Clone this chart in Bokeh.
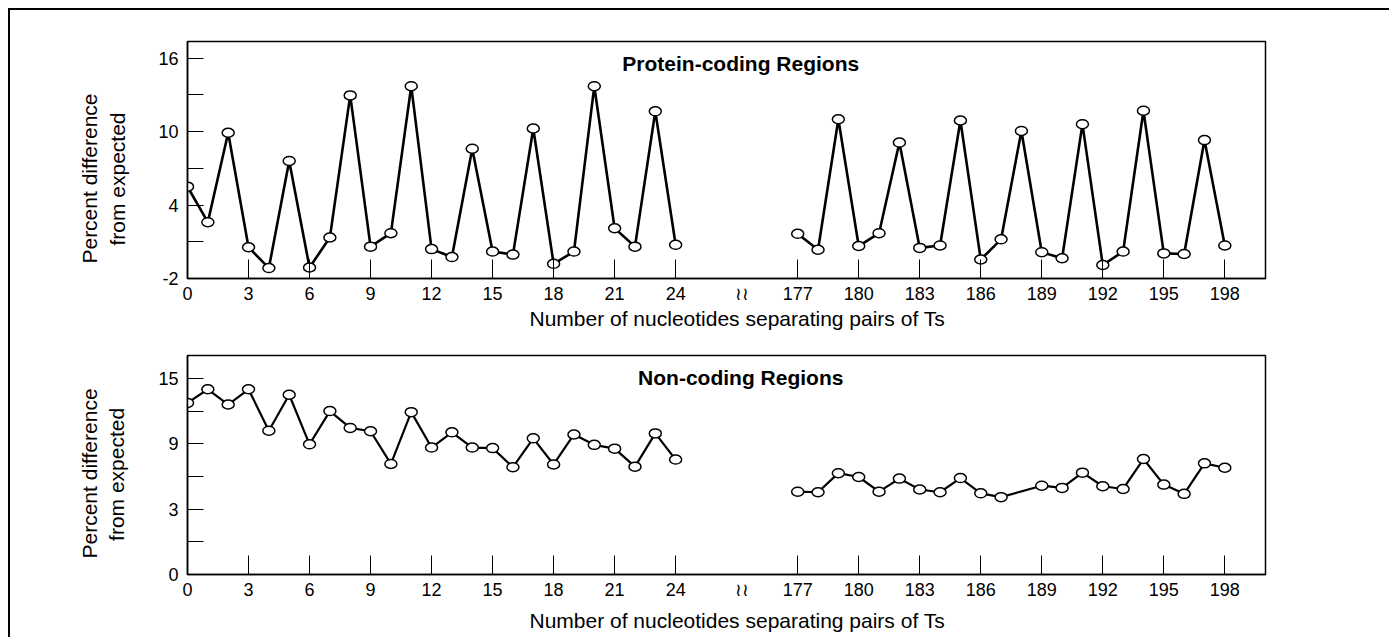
from math import pi
from bokeh.plotting import figure
from bokeh.models import Range1d, FixedTicker, Label, Title
from bokeh.layouts import column, row
from bokeh.core.properties import value
from bokeh.embed import file_html
from bokeh.resources import INLINE

# ---------------- data ----------------
x_left = list(range(0, 25))
x_right_coding = list(range(177, 199))
x_right_noncoding = list(range(177, 188)) + list(range(189, 199))

coding_left = [5.5, 2.6, 9.9, 0.55, -1.15, 7.6, -1.1, 1.35, 12.95, 0.6, 1.7, 13.7, 0.4,
               -0.25, 8.6, 0.2, -0.05, 10.25, -0.8, 0.2, 13.7, 2.1, 0.6, 11.65, 0.75]
coding_right = [1.65, 0.35, 11.0, 0.65, 1.7, 9.1, 0.5, 0.7, 10.9, -0.45, 1.2, 10.05,
                0.15, -0.35, 10.6, -0.9, 0.2, 11.7, 0.05, 0.0, 9.3, 0.7]

noncoding_left = [12.75, 14.0, 12.6, 14.0, 10.2, 13.5, 8.95, 12.0, 10.45, 10.15, 7.15,
                  11.9, 8.65, 10.05, 8.65, 8.6, 6.85, 9.5, 7.1, 9.85, 8.9, 8.55, 6.9,
                  9.95, 7.55]
noncoding_right = [4.6, 4.55, 6.3, 5.95, 4.6, 5.8, 4.8, 4.55, 5.85, 4.45, 4.1, 5.15,
                   4.95, 6.35, 5.1, 4.85, 7.6, 5.25, 4.4, 7.2, 6.8]

x_tick_labels_left = [0, 3, 6, 9, 12, 15, 18, 21, 24]
x_tick_labels_right = [177, 180, 183, 186, 189, 192, 195, 198]

top_y_major = [-2, 4, 10, 16]
top_y_minor = [1, 7, 13]
bottom_y_major = [-3, 3, 9, 15]
bottom_y_labels = ["0", "3", "9", "15"]
bottom_y_minor = [0, 6, 12]

titles = ["Protein-coding Regions", "Non-coding Regions"]
x_label = "Number of nucleotides separating pairs of Ts"
y_label = ["Percent difference", "from expected"]
break_mark = "\u2240\u2240"

# broken axis: values after the break are shifted left
BREAK_SHIFT = 147
BREAK_POS = 27.25


def bx(vals):
    return [v if v <= 24 else v - BREAK_SHIFT for v in vals]


FONT = "Liberation Sans"
LAB_W = 130
MAIN_W = 1249


def make_panel(height, mb_top, mb_bottom, y_lo, y_hi, major, minor, labels,
               left_y, right_y, x_right, title, title_y, line_w, with_xlabel):
    p = figure(width=MAIN_W, height=height, output_backend="svg", toolbar_location=None,
               x_range=Range1d(0, 53), y_range=Range1d(y_lo, y_hi),
               min_border_left=47, min_border_right=124,
               min_border_top=mb_top, min_border_bottom=mb_bottom)
    p.grid.visible = False
    p.outline_line_color = "black"
    p.outline_line_width = 1.5
    p.background_fill_color = "white"
    p.border_fill_color = "white"

    real_ticks = x_tick_labels_left + bx(x_tick_labels_right)
    p.xaxis.ticker = FixedTicker(ticks=real_ticks + [BREAK_POS], minor_ticks=real_ticks)
    overrides = {t: str(l) for t, l in zip(real_ticks, x_tick_labels_left + x_tick_labels_right)}
    overrides[BREAK_POS] = break_mark
    p.xaxis.major_label_overrides = overrides
    p.yaxis.ticker = FixedTicker(ticks=major, minor_ticks=minor)
    p.yaxis.major_label_overrides = {t: l for t, l in zip(major, labels)}

    for ax in (p.xaxis[0], p.yaxis[0]):
        ax.axis_line_color = "black"
        ax.axis_line_width = 1.5
        ax.major_tick_line_color = "black"
        ax.major_tick_line_width = 1
        ax.minor_tick_line_color = "black"
        ax.minor_tick_line_width = 1
        ax.major_tick_out = 0
        ax.minor_tick_out = 0
        ax.major_label_text_font = FONT
        ax.major_label_text_font_size = "18px"
        ax.major_label_text_color = "black"
    p.xaxis.major_tick_in = 0
    p.xaxis.minor_tick_in = 19
    p.yaxis.major_tick_in = 16
    p.yaxis.minor_tick_in = 16
    p.xaxis.major_label_standoff = 5
    p.yaxis.major_label_standoff = 9

    p.line(bx(x_left), left_y, line_color="black", line_width=line_w)
    p.line(bx(x_right), right_y, line_color="black", line_width=line_w)
    for xs, ys in ((x_left, left_y), (x_right, right_y)):
        p.ellipse(x=bx(xs), y=ys, width=12, height=9, width_units="screen",
                  height_units="screen", fill_color="white", line_color="black",
                  line_width=1.5)

    p.add_layout(Label(x=BREAK_POS - 0.05, y=title_y, text=title, text_font=FONT,
                       text_font_size="21px", text_font_style="bold",
                       text_align="center", text_baseline="middle",
                       text_color="black"))
    if with_xlabel:
        p.add_layout(Title(text=x_label, align="left", offset=342, vertical_align="top",
                           standoff=0, text_font=FONT, text_font_size="21px",
                           text_font_style="normal", text_color="black"), "below")
    return p


def text_fig(width, height, y_range, xs, ys, texts, angle):
    f = figure(width=width, height=height, output_backend="svg", toolbar_location=None,
               x_range=Range1d(0, width), y_range=y_range,
               x_axis_type=None, y_axis_type=None,
               min_border_left=0, min_border_right=0, min_border_top=0,
               min_border_bottom=0)
    f.grid.visible = False
    f.outline_line_color = None
    f.background_fill_color = "white"
    f.border_fill_color = "white"
    f.text(x=xs, y=ys, text=texts, angle=angle, text_align="left",
           text_baseline="middle", text_font=value(FONT),
           text_font_size=value("21px"), text_color="black")
    return f


H1, H2, H3 = 323, 271, 33

p1 = make_panel(H1, 31, 55, -2, 17.35, top_y_major, top_y_minor,
                [str(v) for v in top_y_major], coding_left, coding_right,
                x_right_coding, titles[0], 15.59, 2.6, True)
p2 = make_panel(H2, 22, 30, -3, 17.1, bottom_y_major, bottom_y_minor,
                bottom_y_labels, noncoding_left, noncoding_right,
                x_right_noncoding, titles[1], 15.09, 2.2, False)

# rotated y labels share the panel's vertical scale (frames are aligned in a row),
# anchored at their lower (starting) end
l1 = text_fig(LAB_W, H1, p1.y_range, [79, 107], [-0.78, 0.69], y_label, pi / 2)
l2 = text_fig(LAB_W, H2, p2.y_range, [79, 106], [-1.53, 0.08], y_label, pi / 2)
xl2 = text_fig(LAB_W + MAIN_W, H3, Range1d(0, H3), [519], [17.5], [x_label], 0)

layout = column(row(l1, p1, spacing=0), row(l2, p2, spacing=0), xl2, spacing=0,
                margin=(8, 0, 0, 8),
                styles={"border-top": "2px solid black", "border-left": "2px solid black"})

open("out.html", "w").write(file_html(layout, INLINE))
